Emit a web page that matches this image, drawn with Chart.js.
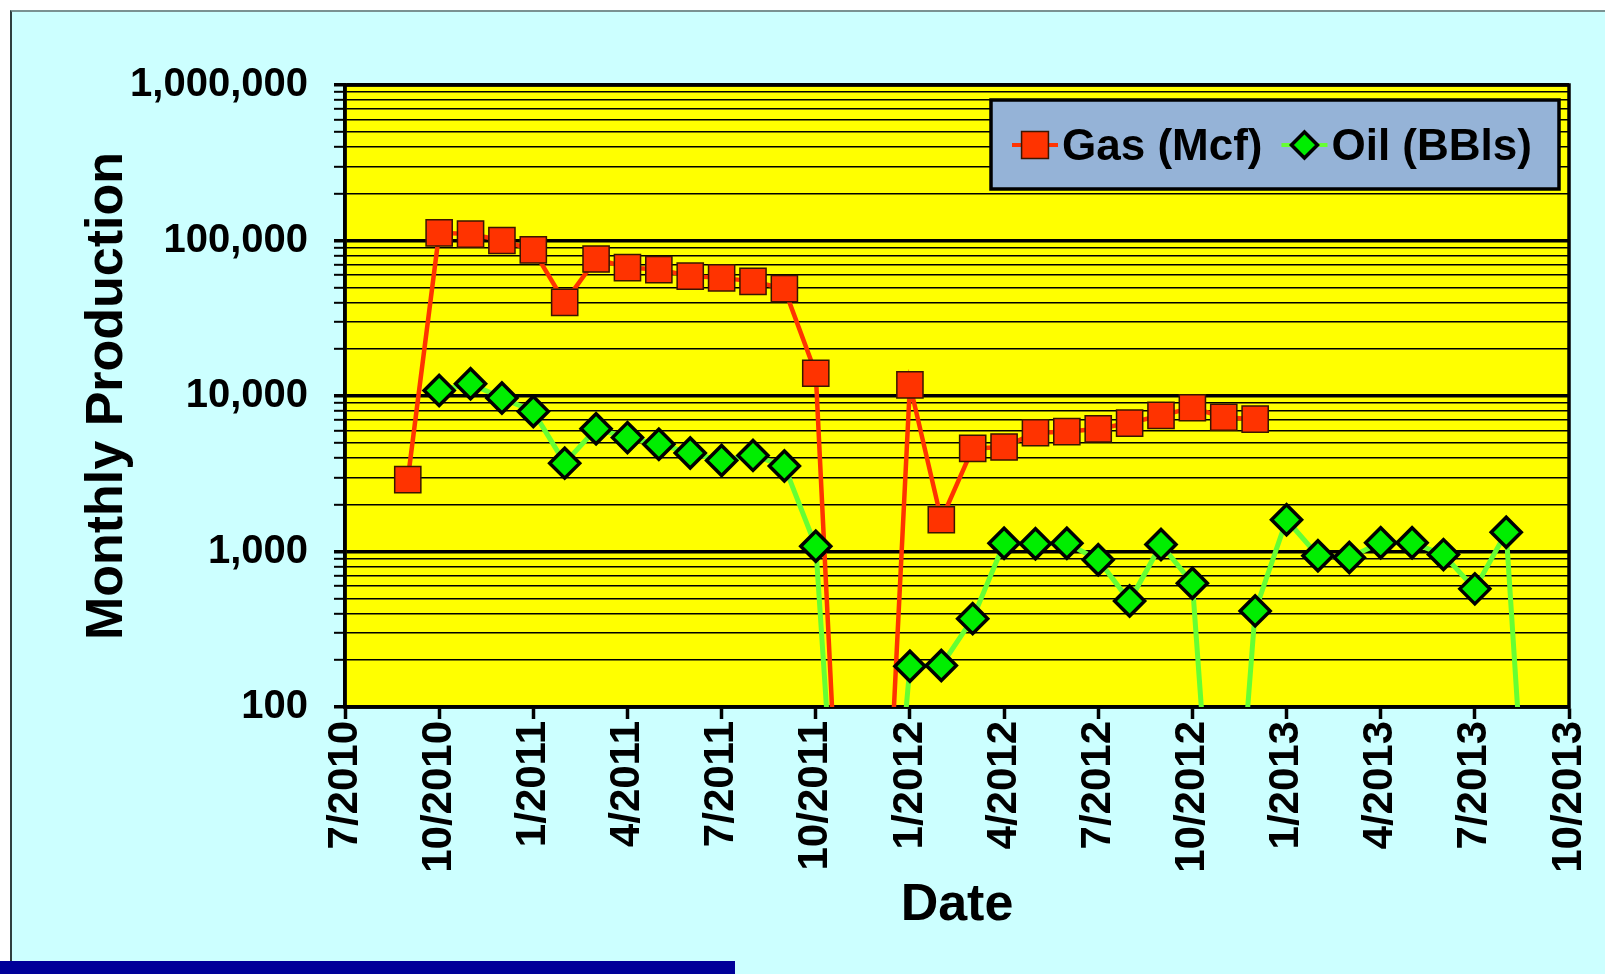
<!DOCTYPE html>
<html>
<head>
<meta charset="utf-8">
<script src="https://cdn.jsdelivr.net/npm/chart.js@4.4.1/dist/chart.umd.min.js"></script>
<style>
  html, body { margin: 0; padding: 0; background: #fff; width: 1605px; height: 974px; overflow: hidden; }
  #slide { position: absolute; left: 10px; top: 10px; width: 1595px; height: 964px; background: #ccffff;
           border-top: 2px solid #7a9292; border-left: 2px solid #2f3f3f; box-sizing: border-box; }
  #bar { position: absolute; left: 0; top: 961px; width: 735px; height: 13px; background: #000099; }
  #wrap { position: absolute; left: 0; top: 0; width: 1605px; height: 974px; }
</style>
</head>
<body>
<div id="slide"></div>
<div id="bar"></div>
<div id="wrap"><canvas id="prodChart"></canvas></div>
<script>
// Monthly production. Zero months (no production) are
// given as 1 so they fall below the 100 floor, as the spreadsheet drew them.
const months = [
  '9/2010', '10/2010', '11/2010', '12/2010',
  '1/2011', '2/2011', '3/2011', '4/2011', '5/2011', '6/2011',
  '7/2011', '8/2011', '9/2011', '10/2011', '11/2011', '12/2011',
  '1/2012', '2/2012', '3/2012', '4/2012', '5/2012', '6/2012',
  '7/2012', '8/2012', '9/2012', '10/2012', '11/2012', '12/2012',
  '1/2013', '2/2013', '3/2013', '4/2013', '5/2013', '6/2013',
  '7/2013', '8/2013', '9/2013'
];
const gasMcf = [
  2900, 112000, 110000, 100000,
  87000, 40000, 76000, 67000, 65000, 59000,
  57500, 54600, 49000, 14000, 1, 1,
  11800, 1600, 4600, 4700, 5800, 5900,
  6150, 6700, 7500, 8400, 7300, 7100,
  null, null, null, null, null, null,
  null, null, null
];
const oilBbl = [
  null, 10850, 12000, 9700,
  7950, 3700, 6150, 5400, 4900, 4300,
  3850, 4150, 3550, 1080, 1, 1,
  183, 185, 370, 1130, 1120, 1130,
  885, 480, 1110, 625, 1, 415,
  1600, 940, 915, 1140, 1140, 955,
  575, 1330, 1
];

const xTickLabels = ['7/2010', '10/2010', '1/2011', '4/2011', '7/2011', '10/2011', '1/2012',
  '4/2012', '7/2012', '10/2012', '1/2013', '4/2013', '7/2013', '10/2013'];
const yTickValues = [100, 1000, 10000, 100000, 1000000];
const yTickLabels = ['100', '1,000', '10,000', '100,000', '1,000,000'];

const FONT = "'Liberation Sans', Arial, sans-serif";
const X_BASE = 2010 * 12 + 6; // 7/2010 -> 0

function monthIndex(s) {
  const [m, y] = s.split('/').map(Number);
  return y * 12 + (m - 1) - X_BASE;
}
function toPoints(values) {
  return months.map((m, i) => ({ x: monthIndex(m), y: values[i] }));
}
const isDecade = v => yTickValues.includes(v);

// log grid: every 1..9 x 10^n between the first and last labelled tick
function logGridValues() {
  const out = [];
  for (let d = yTickValues[0]; d < yTickValues[yTickValues.length - 1]; d *= 10) {
    for (let k = 1; k < 10; k++) out.push(d * k);
  }
  out.push(yTickValues[yTickValues.length - 1]);
  return out;
}

// ─── plot background, frame and legend ──────────────────────────────────
const plotDecor = {
  id: 'plotDecor',
  beforeDraw(chart) {
    const { ctx, chartArea: a } = chart;
    ctx.save();
    ctx.fillStyle = '#ffff00';
    ctx.fillRect(a.left, a.top, a.right - a.left, a.bottom - a.top);
    ctx.restore();
  },
  beforeDatasetsDraw(chart) {
    const { ctx, chartArea: a } = chart;
    ctx.save();
    ctx.strokeStyle = '#000';
    ctx.lineWidth = 3.5;
    ctx.strokeRect(a.left, a.top, a.right - a.left, a.bottom - a.top);
    ctx.restore();
  },
  afterDraw(chart) {
    const { ctx, chartArea: a } = chart;
    const boxW = 568, boxH = 89;
    const bx = a.right - 10 - boxW, by = a.top + 15;
    ctx.save();
    ctx.fillStyle = '#95b3d7';
    ctx.fillRect(bx, by, boxW, boxH);
    ctx.strokeStyle = '#000';
    ctx.lineWidth = 3.5;
    ctx.strokeRect(bx, by, boxW, boxH);

    ctx.font = 'bold 44px ' + FONT;
    ctx.textBaseline = 'middle';
    ctx.textAlign = 'left';
    const cy = by + 45;
    let x = bx + 21;
    chart.data.datasets.slice().sort((p, q) => (p.legendIndex - q.legendIndex)).forEach(ds => {
      ctx.strokeStyle = ds.borderColor;
      ctx.lineWidth = 4;
      ctx.beginPath();
      ctx.moveTo(x, cy);
      ctx.lineTo(x + 46, cy);
      ctx.stroke();
      ctx.fillStyle = ds.pointBackgroundColor;
      ctx.strokeStyle = ds.pointBorderColor;
      ctx.lineWidth = ds.pointBorderWidth;
      Chart.helpers.drawPoint(ctx, {
        pointStyle: ds.pointStyle, radius: ds.legendRadius, rotation: 0, borderWidth: ds.pointBorderWidth
      }, x + 23, cy);
      ctx.fillStyle = '#000';
      ctx.fillText(ds.label, x + 50, cy + 3);
      x += 50 + ctx.measureText(ds.label).width + 19;
    });
    ctx.restore();
  }
};

new Chart(document.getElementById('prodChart'), {
  type: 'line',
  data: {
    datasets: [
      {
        label: 'Oil (BBls)', data: toPoints(oilBbl), order: 0, legendIndex: 1,
        borderColor: '#66ff33', borderWidth: 5, tension: 0,
        pointStyle: 'rectRot', pointRadius: 15, pointHoverRadius: 15, legendRadius: 13,
        pointBackgroundColor: '#00ee00', pointBorderColor: '#000', pointBorderWidth: 3.5
      },
      {
        label: 'Gas (Mcf)', data: toPoints(gasMcf), order: 1, legendIndex: 0,
        borderColor: '#ff3300', borderWidth: 4.5, tension: 0,
        pointStyle: 'rect', pointRadius: 18.5, pointHoverRadius: 18.5, legendRadius: 19,
        pointBackgroundColor: '#ff3300', pointBorderColor: '#3a1500', pointBorderWidth: 1.5
      }
    ]
  },
  options: {
    responsive: true, maintainAspectRatio: false, animation: false,
    layout: { padding: { left: 0, top: 85, right: 36, bottom: 0 } },
    plugins: { legend: { display: false }, tooltip: { enabled: false } },
    scales: {
      x: {
        type: 'linear', min: monthIndex(xTickLabels[0]), max: monthIndex(xTickLabels[xTickLabels.length - 1]),
        afterBuildTicks: s => { s.ticks = xTickLabels.map(l => ({ value: monthIndex(l) })); },
        afterFit: s => { s.height = 267; s.paddingLeft = 0; s.paddingRight = 0; },
        ticks: {
          autoSkip: false, minRotation: 90, maxRotation: 90, padding: 2, color: '#000',
          font: { family: FONT, size: 42, weight: 'bold' },
          callback: (v) => xTickLabels[xTickLabels.findIndex(l => monthIndex(l) === v)] || ''
        },
        grid: { drawOnChartArea: false, drawTicks: true, tickLength: 12, tickWidth: 3.5, tickColor: '#000' },
        border: { display: true, color: '#000', width: 3.5 },
        title: { display: true, text: 'Date', color: '#000', padding: { top: 0, bottom: 37 },
                 font: { family: FONT, size: 52, weight: 'bold' } }
      },
      y: {
        type: 'logarithmic', min: yTickValues[0], max: yTickValues[yTickValues.length - 1],
        afterBuildTicks: s => { s.ticks = logGridValues().map(v => ({ value: v })); },
        afterFit: s => { s.width = 345; s.paddingTop = 0; s.paddingBottom = 0; },
        ticks: {
          autoSkip: false, padding: 26, color: '#000',
          font: { family: FONT, size: 40, weight: 'bold' },
          callback: (v) => { const i = yTickValues.indexOf(v); return i >= 0 ? yTickLabels[i] : ''; }
        },
        grid: {
          color: '#000', tickColor: '#000', tickLength: 11,
          lineWidth: c => (c.tick && isDecade(c.tick.value) ? 3.5 : 1.6),
          tickWidth: c => (c.tick && isDecade(c.tick.value) ? 3.5 : 2)
        },
        border: { display: true, color: '#000', width: 3.5 },
        title: { display: true, text: 'Monthly Production', color: '#000', padding: { top: 76, bottom: 0 },
                 font: { family: FONT, size: 52, weight: 'bold' } }
      }
    }
  },
  plugins: [plotDecor]
});
</script>
</body>
</html>
